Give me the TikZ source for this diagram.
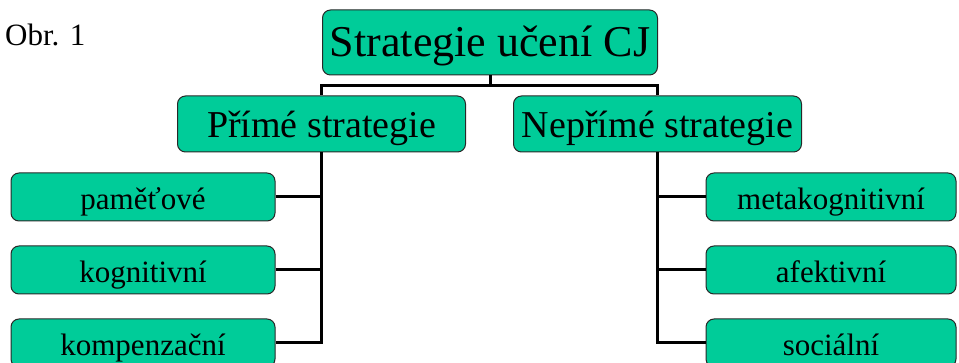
\documentclass[tikz,border=0pt]{standalone}
\usepackage{fontspec}
\setmainfont{Liberation Serif}
\definecolor{boxfill}{RGB}{0,204,153}
\definecolor{boxline}{RGB}{40,40,40}
\tikzset{
  stratbox/.style={draw=boxline, line width=1pt, fill=boxfill, rounded corners=8pt,
    inner sep=0pt, align=center, text=black, text depth=0pt},
  topbox/.style={stratbox, minimum width=335pt, minimum height=65pt, text height=29pt,
    font=\fontsize{44}{48}\selectfont},
  midbox/.style={stratbox, minimum width=288pt, minimum height=56pt, text height=28pt,
    font=\fontsize{38}{42}\selectfont},
  leafbox/.style={stratbox, minimum width=264pt, minimum height=48pt, text height=26pt,
    font=\fontsize{31}{35}\selectfont},
  link/.style={line width=3pt, black}
}
\begin{document}
\begin{tikzpicture}[x=1pt,y=-1pt]
  \useasboundingbox (0,0) rectangle (959,363);
  \clip (0,0) rectangle (959,363);

  \node[anchor=base west, inner sep=0pt, font=\fontsize{31}{35}\selectfont] (obr) at (5,46) {Obr. 1};

  % hierarchy
  \node[topbox] (root) at (490,42.5) {Strategie učení CJ};
  \node[midbox] (direct) at (321.5,124) {Přímé strategie};
  \node[midbox] (indirect) at (657.5,124) {Nepřímé strategie};

  \node[leafbox] (mem) at (143,197) {paměťové};
  \node[leafbox] (cog) at (143,270) {kognitivní};
  \node[leafbox] (comp) at (143,343) {kompenzační};

  \node[leafbox, minimum width=250pt] (meta) at (831,197) {metakognitivní};
  \node[leafbox, minimum width=250pt] (aff) at (831,270) {afektivní};
  \node[leafbox, minimum width=250pt] (soc) at (831,343) {sociální};

  % connectors
  \coordinate (split) at (490,86);
  \draw[link] (root.south) -- (split);
  \draw[link] (split) -| (direct.north);
  \draw[link] (split) -| (indirect.north);

  \draw[link] (direct.south) |- (comp.east);
  \draw[link] (mem.east) -- (mem.east -| direct.south);
  \draw[link] (cog.east) -- (cog.east -| direct.south);

  \draw[link] (indirect.south) |- (soc.west);
  \draw[link] (meta.west) -- (meta.west -| indirect.south);
  \draw[link] (aff.west) -- (aff.west -| indirect.south);
\end{tikzpicture}
\end{document}
